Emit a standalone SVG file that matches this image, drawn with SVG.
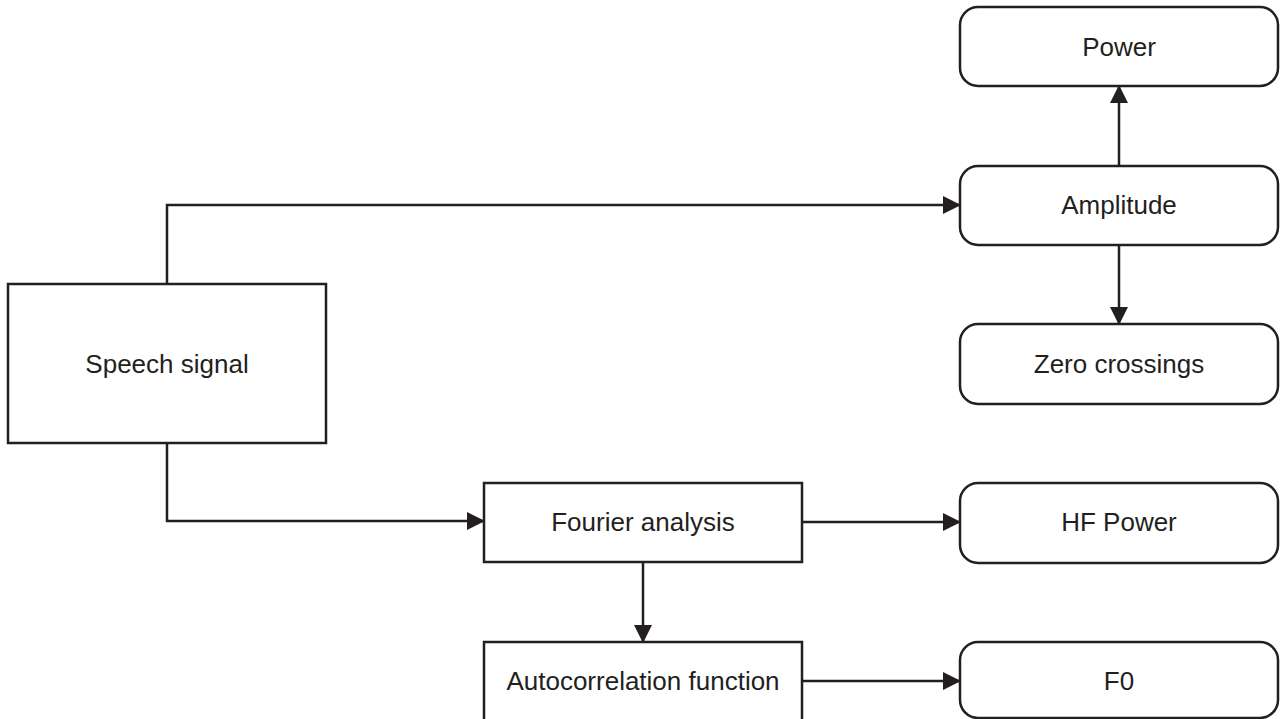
<svg xmlns="http://www.w3.org/2000/svg" width="1281" height="719" viewBox="0 0 1281 719">
<style>
.box{fill:#fff;stroke:#231f20;stroke-width:2.5}
.lbl{font-family:"Liberation Sans",Arial,sans-serif;font-size:26px;fill:#231f20;text-anchor:middle;dominant-baseline:central}
.con{fill:none;stroke:#231f20;stroke-width:2.5;marker-end:url(#ah)}
</style>
<defs>
<marker id="ah" viewBox="0 0 18 18" refX="17" refY="9" markerWidth="18" markerHeight="18" markerUnits="userSpaceOnUse" orient="auto">
<path d="M0,0 L18,9 L0,18 Z" fill="#231f20"/>
</marker>
</defs>
<rect width="1281" height="719" fill="#fff"/>
<g id="connectors">
<path class="con" d="M167,284 V205 H960"/>
<path class="con" d="M167,443 V521 H484"/>
<path class="con" d="M1119,166 V86"/>
<path class="con" d="M1119,245 V324"/>
<path class="con" d="M802,522 H960"/>
<path class="con" d="M643,562 V642"/>
<path class="con" d="M802,681 H960"/>
</g>
<g id="speech"><rect class="box" x="8" y="284" width="318" height="159"/><text class="lbl" x="167" y="364">Speech signal</text></g>
<g id="power"><rect class="box" x="960" y="7" width="318" height="79" rx="18"/><text class="lbl" x="1119" y="47">Power</text></g>
<g id="amplitude"><rect class="box" x="960" y="166" width="318" height="79" rx="18"/><text class="lbl" x="1119" y="205">Amplitude</text></g>
<g id="zero"><rect class="box" x="960" y="324" width="318" height="80" rx="18"/><text class="lbl" x="1119" y="364">Zero crossings</text></g>
<g id="fourier"><rect class="box" x="484" y="483" width="318" height="79"/><text class="lbl" x="643" y="522">Fourier analysis</text></g>
<g id="hf"><rect class="box" x="960" y="483" width="318" height="80" rx="18"/><text class="lbl" x="1119" y="522">HF Power</text></g>
<g id="autocorr"><rect class="box" x="484" y="642" width="318" height="90"/><text class="lbl" x="643" y="681">Autocorrelation function</text></g>
<g id="f0"><rect class="box" x="960" y="642" width="318" height="76" rx="18"/><text class="lbl" x="1119" y="681">F0</text></g>
</svg>
